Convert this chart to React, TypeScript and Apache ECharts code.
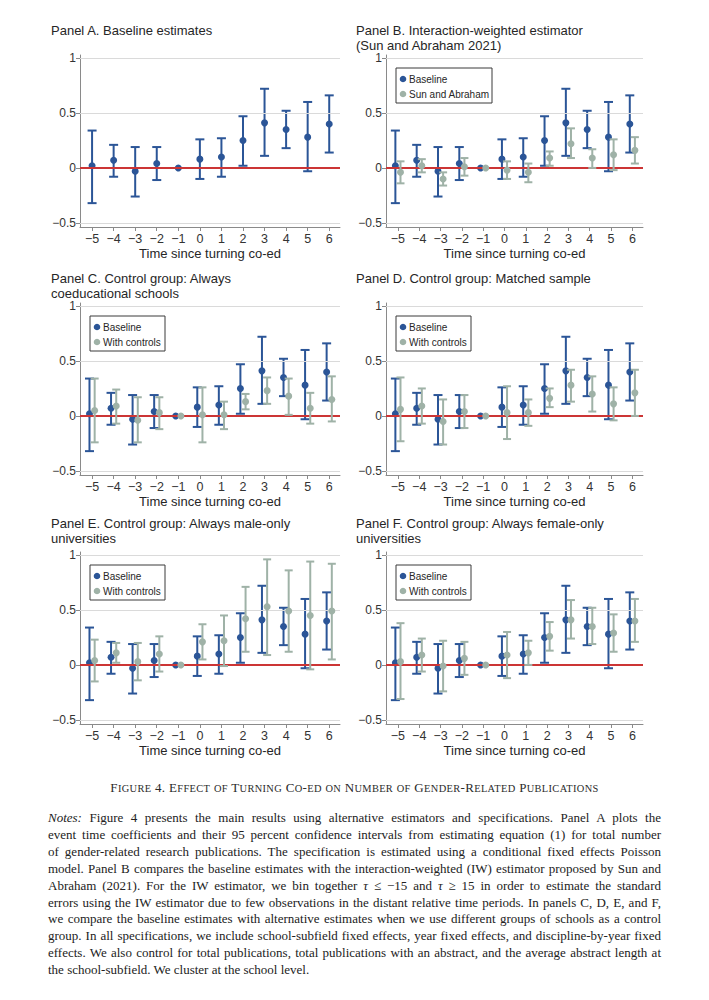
import React, { useEffect, useRef } from "react";
import * as echarts from "echarts";

// ---------- data ----------
const periods = [-5, -4, -3, -2, -1, 0, 1, 2, 3, 4, 5, 6];
const yTicks = [-0.5, 0, 0.5, 1];

const baselineEst = [0.02, 0.07, -0.03, 0.04, 0, 0.08, 0.1, 0.25, 0.41, 0.35, 0.28, 0.4];
const baselineLo = [-0.32, -0.08, -0.26, -0.11, 0, -0.1, -0.08, 0.02, 0.11, 0.18, -0.03, 0.14];
const baselineHi = [0.34, 0.21, 0.19, 0.19, 0, 0.26, 0.27, 0.47, 0.72, 0.52, 0.6, 0.66];

const sunAbrahamEst = [-0.04, 0.02, -0.1, 0.01, 0, -0.02, -0.04, 0.09, 0.22, 0.09, 0.12, 0.16];
const sunAbrahamLo = [-0.14, -0.04, -0.16, -0.07, 0, -0.1, -0.13, 0.02, 0.09, 0.0, -0.02, 0.04];
const sunAbrahamHi = [0.06, 0.08, -0.04, 0.09, 0, 0.06, 0.04, 0.15, 0.36, 0.17, 0.26, 0.28];

const coedEst = [0.05, 0.09, -0.04, 0.03, 0, 0.01, 0.01, 0.13, 0.23, 0.18, 0.07, 0.15];
const coedLo = [-0.24, -0.07, -0.24, -0.12, 0, -0.24, -0.12, 0.06, 0.11, 0.01, -0.07, -0.05];
const coedHi = [0.34, 0.24, 0.17, 0.17, 0, 0.26, 0.13, 0.2, 0.35, 0.34, 0.21, 0.36];

const matchedEst = [0.06, 0.09, -0.05, 0.04, 0, 0.03, 0.03, 0.16, 0.28, 0.2, 0.11, 0.21];
const matchedLo = [-0.23, -0.07, -0.26, -0.11, 0, -0.21, -0.09, 0.08, 0.13, 0.04, -0.04, 0.0];
const matchedHi = [0.35, 0.25, 0.15, 0.19, 0, 0.27, 0.15, 0.25, 0.42, 0.36, 0.26, 0.42];

const maleOnlyEst = [0.04, 0.11, 0.03, 0.1, 0, 0.21, 0.22, 0.42, 0.53, 0.49, 0.45, 0.49];
const maleOnlyLo = [-0.15, 0.02, -0.14, -0.06, 0, 0.05, -0.01, 0.12, 0.09, 0.12, -0.04, 0.05];
const maleOnlyHi = [0.23, 0.2, 0.2, 0.26, 0, 0.37, 0.45, 0.71, 0.96, 0.86, 0.94, 0.92];

const femaleOnlyEst = [0.03, 0.09, -0.01, 0.06, 0, 0.09, 0.11, 0.26, 0.41, 0.35, 0.29, 0.4];
const femaleOnlyLo = [-0.31, -0.06, -0.24, -0.09, 0, -0.12, 0.0, 0.13, 0.24, 0.19, 0.12, 0.21];
const femaleOnlyHi = [0.38, 0.24, 0.22, 0.21, 0, 0.3, 0.22, 0.39, 0.59, 0.52, 0.46, 0.6];

const panelTitles = [
  ["Panel A. Baseline estimates"],
  ["Panel B. Interaction-weighted estimator", "(Sun and Abraham 2021)"],
  ["Panel C. Control group: Always", "coeducational schools"],
  ["Panel D. Control group: Matched sample"],
  ["Panel E. Control group: Always male-only", "universities"],
  ["Panel F. Control group: Always female-only", "universities"],
];
const altNames = [null, "Sun and Abraham", "With controls", "With controls", "With controls", "With controls"];
const altEst = [null, sunAbrahamEst, coedEst, matchedEst, maleOnlyEst, femaleOnlyEst];
const altLo = [null, sunAbrahamLo, coedLo, matchedLo, maleOnlyLo, femaleOnlyLo];
const altHi = [null, sunAbrahamHi, coedHi, matchedHi, maleOnlyHi, femaleOnlyHi];

const xAxisTitle = "Time since turning co-ed";
const captionText = "Figure 4. Effect of Turning Co-ed on Number of Gender-Related Publications";
const noteLines: React.ReactNode[] = [
  <><i>Notes:</i> Figure 4 presents the main results using alternative estimators and specifications. Panel A plots the</>,
  <>event time coefficients and their 95 percent confidence intervals from estimating equation (1) for total number</>,
  <>of gender-related research publications. The specification is estimated using a conditional fixed effects Poisson</>,
  <>model. Panel B compares the baseline estimates with the interaction-weighted (IW) estimator proposed by Sun and</>,
  <>Abraham (2021). For the IW estimator, we bin together <i>τ</i> ≤ −15 and <i>τ</i> ≥ 15 in order to estimate the standard</>,
  <>errors using the IW estimator due to few observations in the distant relative time periods. In panels C, D, E, and F,</>,
  <>we compare the baseline estimates with alternative estimates when we use different groups of schools as a control</>,
  <>group. In all specifications, we include school-subfield fixed effects, year fixed effects, and discipline-by-year fixed</>,
  <>effects. We also control for total publications, total publications with an abstract, and the average abstract length at</>,
  <>the school-subfield. We cluster at the school level.</>,
];

// ---------- style / layout ----------
const BLUE = "#2b5597";
const GREEN = "#9fb2a7";
const RED = "#cc3535";
const GRID = "#dadada";
const AXIS = "#8a8a8a";
const TEXT = "#262626";
const FONT = "'Liberation Sans', Arial, Helvetica, sans-serif";
const SERIF = "'Liberation Serif', 'Times New Roman', serif";

const colLeft = [80, 386];
const colWidth = [260, 257];
const colTitleX = [51, 356];
const rowTop = [55, 303, 552];
const rowTitleY = [30, 278, 523];
const titleLineGap = 15;
const gridHeight = 172;
const Y_MIN = -0.537;
const Y_MAX = 1.027;
const X_MIN = -5.56;
const X_MAX = 6.5;

const fmt = (v: number) => (v < 0 ? "\u2212" : "") + String(Math.abs(v));

function errorBarSeries(idx: number, xs: number[], lo: number[], hi: number[], color: string, capHalf: number, z: number) {
  return {
    type: "custom",
    xAxisIndex: idx,
    yAxisIndex: idx,
    z,
    silent: true,
    data: xs.map((x, i) => [x, lo[i], hi[i]]),
    encode: { x: 0, y: [1, 2] },
    renderItem: (_params: any, api: any) => {
      const x = api.value(0);
      const l = api.value(1);
      const h = api.value(2);
      if (l === h) return { type: "group", children: [] };
      const top = api.coord([x, h]);
      const bot = api.coord([x, l]);
      const st = { stroke: color, lineWidth: 2 };
      return {
        type: "group",
        children: [
          { type: "line", shape: { x1: top[0], y1: top[1], x2: bot[0], y2: bot[1] }, style: st },
          { type: "line", shape: { x1: top[0] - capHalf, y1: top[1], x2: top[0] + capHalf, y2: top[1] }, style: st },
          { type: "line", shape: { x1: bot[0] - capHalf, y1: bot[1], x2: bot[0] + capHalf, y2: bot[1] }, style: st },
        ],
      };
    },
  };
}

function buildOption() {
  const grids: any[] = [];
  const xAxes: any[] = [];
  const yAxes: any[] = [];
  const series: any[] = [];
  const graphics: any[] = [];

  for (let p = 0; p < 6; p++) {
    const col = p % 2;
    const row = Math.floor(p / 2);
    grids.push({ left: colLeft[col], top: rowTop[row], width: colWidth[col], height: gridHeight, containLabel: false });
    xAxes.push({
      type: "value",
      gridIndex: p,
      min: X_MIN,
      max: X_MAX,
      axisLine: { show: true, onZero: false, lineStyle: { color: AXIS, width: 1 } },
      axisTick: { show: true, customValues: periods, length: 4, lineStyle: { color: AXIS } },
      axisLabel: { customValues: periods, formatter: fmt, color: "#333", fontSize: 12.5, fontFamily: FONT, margin: 5 },
      splitLine: { show: false },
      name: xAxisTitle,
      nameLocation: "middle",
      nameGap: 20,
      nameTextStyle: { color: TEXT, fontSize: 13, fontFamily: FONT },
    });
    yAxes.push({
      type: "value",
      gridIndex: p,
      min: Y_MIN,
      max: Y_MAX,
      axisLine: { show: true, onZero: false, lineStyle: { color: AXIS, width: 1 } },
      axisTick: { show: true, customValues: yTicks, length: 4, lineStyle: { color: AXIS } },
      axisLabel: { customValues: yTicks, formatter: fmt, color: "#333", fontSize: 12, fontFamily: FONT, margin: 4 },
      splitLine: { show: false },
    });

    // reference lines (gridlines + zero line)
    series.push({
      type: "line",
      xAxisIndex: p,
      yAxisIndex: p,
      data: [],
      z: 1,
      silent: true,
      markLine: {
        silent: true,
        symbol: ["none", "none"],
        label: { show: false },
        animation: false,
        data: [
          ...yTicks.filter((v) => v !== 0).map((v) => ({ yAxis: v, lineStyle: { color: GRID, width: 1, type: "solid" } })),
          { yAxis: 0, lineStyle: { color: RED, width: 2, type: "solid" } },
        ],
      },
    });

    const hasAlt = altEst[p] !== null;
    const bOff = hasAlt ? -0.12 : 0;
    const aOff = 0.12;
    const bx = periods.map((v) => v + bOff);
    series.push(errorBarSeries(p, bx, baselineLo, baselineHi, BLUE, 4.5, 3));
    series.push({
      type: "scatter",
      name: "Baseline",
      xAxisIndex: p,
      yAxisIndex: p,
      symbol: "circle",
      symbolSize: 7,
      z: 4,
      itemStyle: { color: BLUE, opacity: 1 },
      data: bx.map((x, i) => [x, baselineEst[i]]),
    });
    if (hasAlt) {
      const ax = periods.map((v) => v + aOff);
      series.push(errorBarSeries(p, ax, altLo[p] as number[], altHi[p] as number[], GREEN, 4, 5));
      series.push({
        type: "scatter",
        name: altNames[p],
        xAxisIndex: p,
        yAxisIndex: p,
        symbol: "circle",
        symbolSize: 7,
        z: 6,
        itemStyle: { color: GREEN, opacity: 1 },
        data: ax.map((x, i) => [x, (altEst[p] as number[])[i]]),
      });

      // legend box
      const lx = colLeft[col] + 10;
      const ly = rowTop[row] + 13;
      const lw = p === 1 ? 96 : 75;
      graphics.push({
        type: "group",
        z: 20,
        children: [
          { type: "rect", shape: { x: lx, y: ly, width: lw, height: 35 }, style: { fill: "#fff", stroke: "#3a3a3a", lineWidth: 1 } },
          { type: "circle", shape: { cx: lx + 7, cy: ly + 11, r: 3.3 }, style: { fill: BLUE } },
          { type: "circle", shape: { cx: lx + 7, cy: ly + 26, r: 3.3 }, style: { fill: GREEN } },
          { type: "text", x: lx + 13, y: ly + 11, style: { text: "Baseline", fill: TEXT, font: `10px ${FONT}`, verticalAlign: "middle", align: "left" } },
          { type: "text", x: lx + 13, y: ly + 26, style: { text: altNames[p] as string, fill: TEXT, font: `10px ${FONT}`, verticalAlign: "middle", align: "left" } },
        ],
      });
    }

    // panel title
    panelTitles[p].forEach((line, k) => {
      graphics.push({
        type: "text",
        x: colTitleX[col],
        y: rowTitleY[row] + k * titleLineGap,
        z: 20,
        style: { text: line, fill: TEXT, font: `13px ${FONT}`, verticalAlign: "middle", align: "left" },
      });
    });
  }

  return {
    animation: false,
    backgroundColor: "#ffffff",
    grid: grids,
    xAxis: xAxes,
    yAxis: yAxes,
    series,
    graphic: graphics,
  };
}

function Chart() {
  const ref = useRef<HTMLDivElement>(null);
  useEffect(() => {
    if (!ref.current) return;
    const chart = echarts.init(ref.current, undefined, { renderer: "svg" });
    chart.setOption(buildOption() as any);
    return () => chart.dispose();
  }, []);
  return <div ref={ref} style={{ position: "absolute", left: 0, top: 0, width: 709, height: 765 }} />;
}

// small caps rendered manually: capital letters full size, others as reduced capitals
function SmallCaps({ text }: { text: string }) {
  const parts: React.ReactNode[] = [];
  let buf = "";
  let bufSmall: boolean | null = null;
  const flush = (key: number) => {
    if (buf === "") return;
    parts.push(
      <span key={key} style={{ fontSize: bufSmall ? 10.4 : 13 }}>
        {buf.toUpperCase()}
      </span>
    );
    buf = "";
  };
  for (let i = 0; i < text.length; i++) {
    const ch = text[i];
    const small = /[a-z]/.test(ch);
    if (bufSmall !== null && small !== bufSmall) flush(i);
    bufSmall = small;
    buf += ch;
  }
  flush(text.length);
  return <>{parts}</>;
}

export default function App() {
  return (
    <div style={{ position: "absolute", left: 0, top: 0, width: 709, height: 1000, background: "#fff", overflow: "hidden" }}>
      <Chart />
      <div
        style={{
          position: "absolute",
          left: 0,
          top: 780,
          width: 709,
          textAlign: "center",
          fontFamily: SERIF,
          fontSize: 13,
          letterSpacing: "0.35px",
          color: "#2a2a2a",
          lineHeight: "16px",
          whiteSpace: "nowrap",
        }}
      >
        <SmallCaps text={captionText} />
      </div>
      <div
        style={{
          position: "absolute",
          left: 48,
          top: 810,
          width: 613,
          fontFamily: SERIF,
          fontSize: 13,
          lineHeight: "16.9px",
          color: "#222",
        }}
      >
        {noteLines.map((ln, i) => (
          <div
            key={i}
            style={{
              whiteSpace: "nowrap",
              textAlign: i === noteLines.length - 1 ? "left" : "justify",
              textAlignLast: i === noteLines.length - 1 ? "left" : "justify",
            } as React.CSSProperties}
          >
            {ln}
          </div>
        ))}
      </div>
    </div>
  );
}
